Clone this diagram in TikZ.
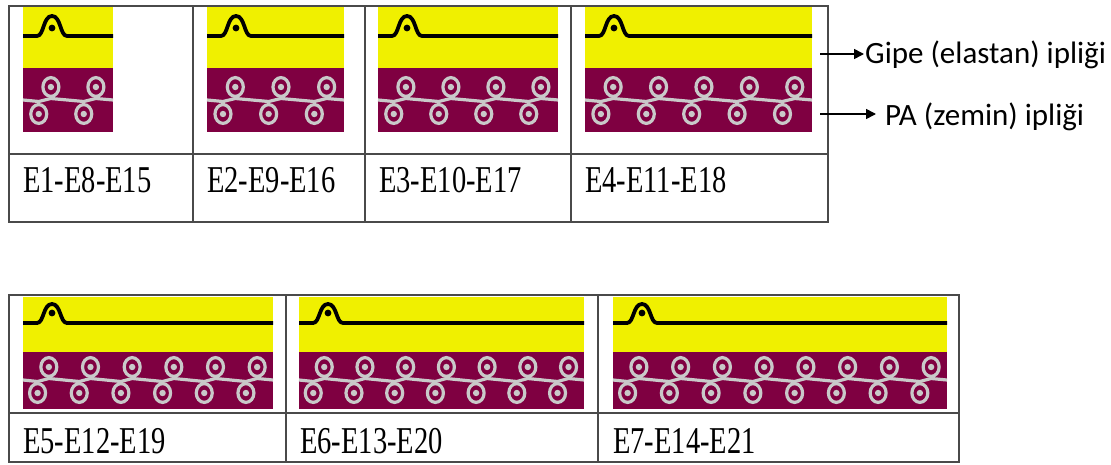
\documentclass[tikz,border=0pt]{standalone}
\usepackage{fontspec}
\setmainfont{Liberation Serif}
\newfontfamily\labelfont{Carlito}
\usetikzlibrary{arrows.meta}

\definecolor{yarnyellow}{HTML}{F0F000}
\definecolor{yarnpurple}{HTML}{7F0041}
\definecolor{yarngray}{HTML}{C9C9C9}
\definecolor{rulegray}{HTML}{4A4A4A}

\tikzset{
  elastan/.style={line width=3.8pt, black, line join=round},
  payarn/.style={line width=3.2pt, yarngray, line join=round},
  loopring/.style={draw=yarngray, line width=3.2pt, fill=yarnpurple},
  tablerule/.style={draw=rulegray, line width=1.4pt},
  celltext/.style={anchor=base west, inner sep=0pt, font=\fontsize{28.5}{30}\selectfont},
  yarnlabel/.style={anchor=base west, inner sep=1pt, font=\labelfont\fontsize{31}{33}\selectfont},
  pointer/.style={line width=1.6pt, -{Triangle[length=10pt,width=10pt]}}
}

% vertical geometry of one row of fabric sketches
\newcommand\setrow[9]{\def\Yt{#1}\def\Yb{#2}\def\Yp{#3}\def\Lw{#4}\def\Pk{#5}\def\Dt{#6}\def\Cu{#7}\def\Cl{#8}\def\Md{#9}}
\newcommand\tallcell[1]{\scalebox{1}[1.33]{#1}}

% one fabric sketch: left x, right x, number of ground-yarn repeats
\newcommand\fabric[3]{%
  \fill[yarnyellow] (#1,\Yt) rectangle (#2,\Yb);
  \fill[yarnpurple] (#1,\Yb) rectangle (#2,\Yp);
  \pgfmathsetmacro\bx{#1+29}
  \draw[elastan] (#1,\Lw) -- ({\bx-15},\Lw) .. controls ({\bx-8},\Lw) and ({\bx-9},\Pk) .. (\bx,\Pk)
     .. controls ({\bx+9},\Pk) and ({\bx+8},\Lw) .. ({\bx+15},\Lw) -- (#2,\Lw);
  \fill (\bx,\Dt) circle (3.4pt);
  \pgfmathsetmacro\uw{(#2-#1)/#3}
  \draw[payarn] (#1,\Md) \foreach \k in {1,...,#3}{
      -- ({#1+(\k-0.65)*\uw},\Md+1.5) -- ({#1+(\k-0.38)*\uw},\Md-1.5)} -- (#2,\Md);
  \foreach \k in {1,...,#3}{
    \draw[payarn] ({#1+(\k-0.65)*\uw},\Md+1.5) -- ({#1+(\k-0.65)*\uw},\Cl-8);
    \draw[payarn] ({#1+(\k-0.38)*\uw},\Md-1.5) -- ({#1+(\k-0.38)*\uw},\Cu+8);
    \draw[loopring] ({#1+(\k-0.65)*\uw},\Cl) ellipse [x radius=8pt, y radius=9.4pt];
    \draw[loopring] ({#1+(\k-0.38)*\uw},\Cu) ellipse [x radius=8pt, y radius=9.4pt];
    \fill[yarngray] ({#1+(\k-0.65)*\uw},\Cl) circle (3.2pt);
    \fill[yarngray] ({#1+(\k-0.38)*\uw},\Cu) circle (3.2pt);
  }%
}

\begin{document}
\begin{tikzpicture}[x=1pt,y=-1pt]
  \fill[white] (0,0) rectangle (1111,465);
  \useasboundingbox (0,0) rectangle (1111,465);

  % first table
  \setrow{7}{68}{132}{36}{16}{28}{87}{114}{100}
  \fabric{23}{113}{2}
  \fabric{207}{344}{3}
  \fabric{378}{558}{4}
  \fabric{585}{812}{5}
  \draw[tablerule] (9,6) rectangle (828,222);
  \draw[tablerule] (9,154) -- (828,154);
  \foreach \x in {193,365,571} \draw[tablerule] (\x,6) -- (\x,222);
  \node[celltext] (c1) at (23,193) {\tallcell{E1-E8-E15}};
  \node[celltext] (c2) at (207,193) {\tallcell{E2-E9-E16}};
  \node[celltext] (c3) at (379,193) {\tallcell{E3-E10-E17}};
  \node[celltext] (c4) at (585,193) {\tallcell{E4-E11-E18}};

  % second table
  \setrow{297}{352}{409}{323}{304}{313}{367}{393}{380}
  \fabric{23}{273}{6}
  \fabric{299}{584}{7}
  \fabric{613}{947}{8}
  \draw[tablerule] (9,295) rectangle (959,462);
  \draw[tablerule] (9,413) -- (959,413);
  \foreach \x in {286,598} \draw[tablerule] (\x,295) -- (\x,462);
  \node[celltext] (c5) at (23,453) {\tallcell{E5-E12-E19}};
  \node[celltext] (c6) at (300,453) {\tallcell{E6-E13-E20}};
  \node[celltext] (c7) at (613,453) {\tallcell{E7-E14-E21}};

  % yarn labels
  \node[yarnlabel] (gipe) at (864,64) {Gipe (elastan) ipliği};
  \node[yarnlabel] (pa) at (884,126) {PA (zemin) ipliği};
  \coordinate (gipefrom) at (820,54);
  \coordinate (pafrom) at (820,114);
  \draw[pointer] (gipefrom) -- (gipefrom -| gipe.west);
  \draw[pointer] (pafrom) -- ([xshift=-8pt]pafrom -| pa.west);
\end{tikzpicture}
\end{document}
